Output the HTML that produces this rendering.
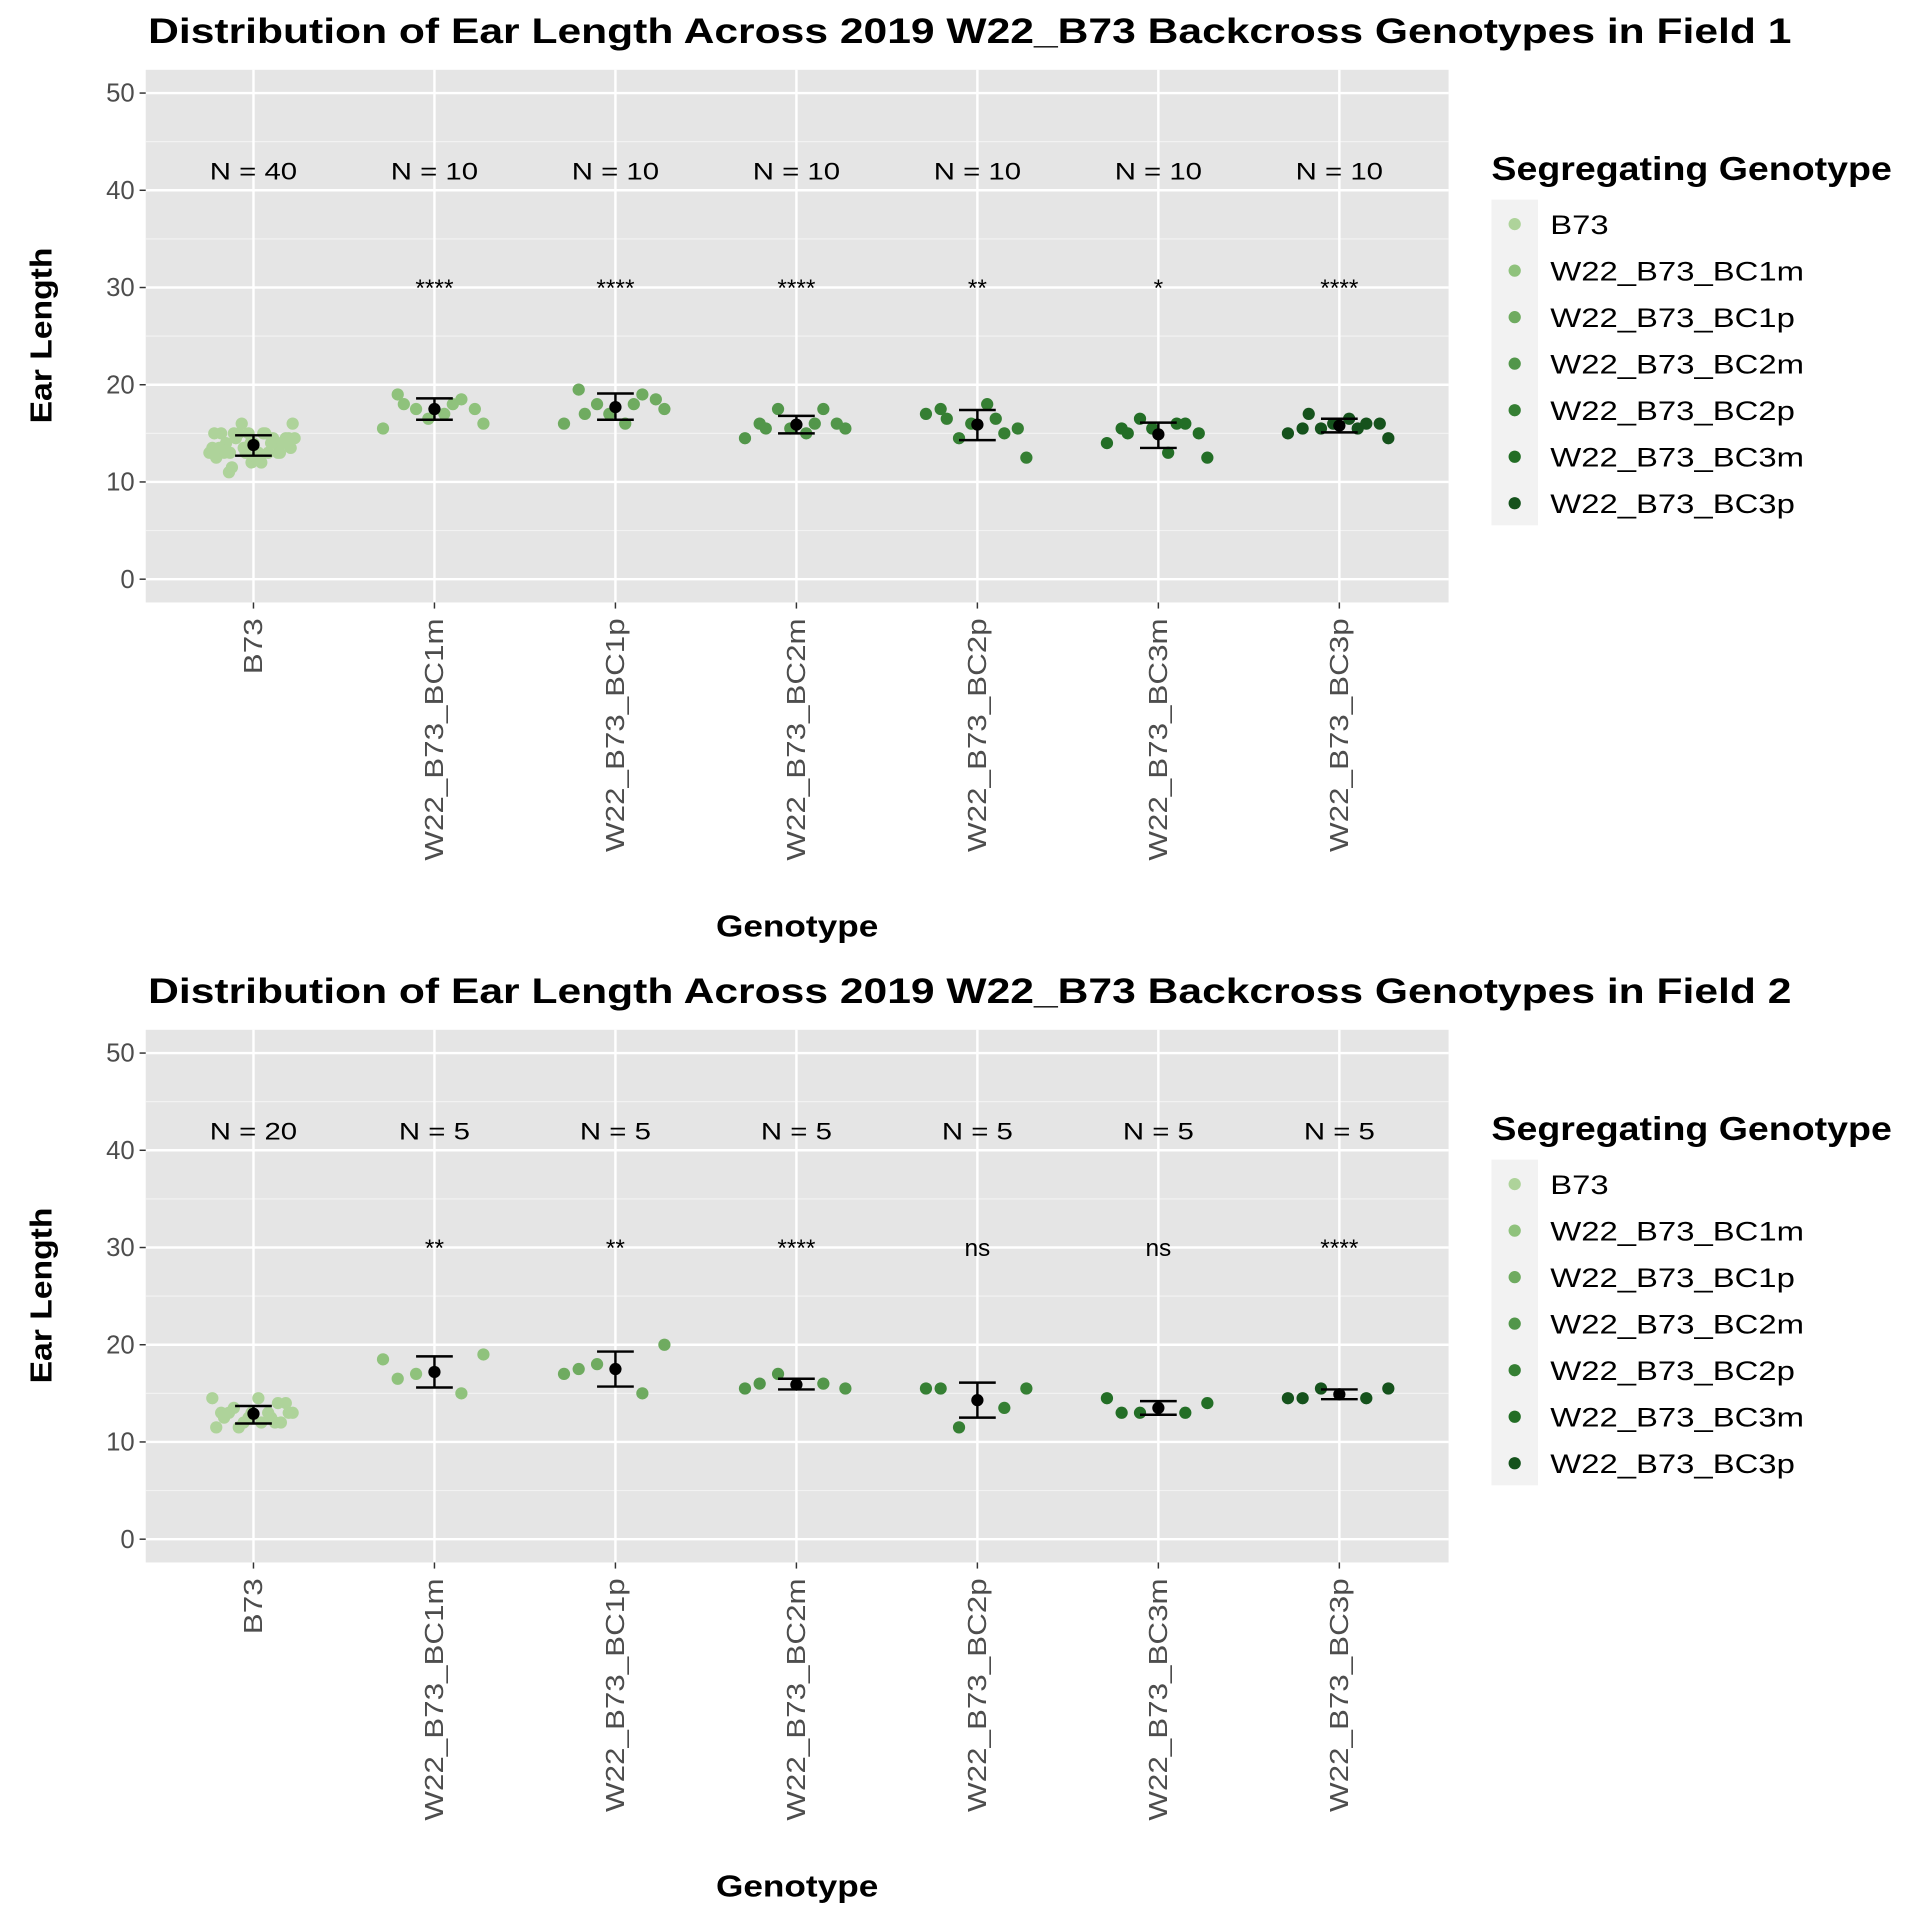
<!DOCTYPE html>
<html><head><meta charset="utf-8"><style>
html,body{margin:0;padding:0;background:#fff;width:1920px;height:1920px;overflow:hidden}
svg{display:block}
text{font-family:"Liberation Sans",Arial,sans-serif}
</style></head><body>
<svg id="chart" width="1920" height="1920" viewBox="0 0 1568 1568" xmlns="http://www.w3.org/2000/svg"></svg>
<script>
const categories = ["B73","W22_B73_BC1m","W22_B73_BC1p","W22_B73_BC2m","W22_B73_BC2p","W22_B73_BC3m","W22_B73_BC3p"];
const colors = ["#aed39a","#8fc27c","#6fab60","#52964a","#357f33","#236e26","#15521c"];
const yTicks = [0,10,20,30,40,50];
// Field 1
const f1Counts = ["N = 40","N = 10","N = 10","N = 10","N = 10","N = 10","N = 10"];
const f1Sig = ["","****","****","****","**","*","****"];
const f1Means = [13.8,17.5,17.7,15.9,15.9,14.9,15.8];
const f1Lower = [12.7,16.4,16.4,15.0,14.3,13.5,15.1];
const f1Upper = [14.8,18.6,19.1,16.8,17.4,16.1,16.5];
const f1B73 = [13,14,15,16,13.5,12,11,14.5,15,13,12.5,14,15,13,14.5,13.5,15,14,12,13,14,15,13.5,14.5,14,13,15,14.5,12.5,13,16,14,13.5,15,14,13,11.5,14.5,13,14];
const f1BC1m = [19,18.5,17.5,16,15.5,17,18,17.5,16.5,18];
const f1BC1p = [19.5,19,18,17.5,16,16,17,18.5,17,18];
const f1BC2m = [16,17.5,17.5,15.5,14.5,15,15.5,16,15.5,16];
const f1BC2p = [17.5,15,14.5,12.5,17,18,16.5,15.5,16,16.5];
const f1BC3m = [15.5,16,16.5,12.5,14,13,15,15,15.5,16];
const f1BC3p = [15.5,16,15.5,14.5,15,16.5,17,16,16,15.5];
// Field 2
const f2Counts = ["N = 20","N = 5","N = 5","N = 5","N = 5","N = 5","N = 5"];
const f2Sig = ["","**","**","****","ns","ns","****"];
const f2Means = [12.9,17.2,17.5,15.9,14.3,13.5,14.9];
const f2Lower = [11.9,15.6,15.7,15.4,12.5,12.8,14.4];
const f2Upper = [13.7,18.8,19.3,16.5,16.1,14.2,15.4];
const f2B73 = [12.5,12,11.5,13,14.5,12,13,14,12.5,13,11.5,12,13.5,14.5,13,12,13,12.5,13,14];
const f2BC1m = [16.5,15,17,19,18.5];
const f2BC1p = [17.5,15,18,20,17];
const f2BC2m = [16,16,17,15.5,15.5];
const f2BC2p = [15.5,13.5,11.5,15.5,15.5];
const f2BC3m = [13,13,13,14,14.5];
const f2BC3p = [14.5,14.5,15.5,15.5,14.5];
const f1Points=[f1B73,f1BC1m,f1BC1p,f1BC2m,f1BC2p,f1BC3m,f1BC3p];
const f2Points=[f2B73,f2BC1m,f2BC1p,f2BC2m,f2BC2p,f2BC3m,f2BC3p];
const jitter=[-30,22,-15,40,-42,8,-25,33,-5,15,-38,28,-20,5,36,-10,-33,18,-2,25,-28,10,38,-18,30,-8,-40,20,3,-24,-12,35,-35,12,-3,27,-22,42,-45,0];

const svg=document.getElementById('chart');
const NS='http://www.w3.org/2000/svg';
function el(tag,attrs,parent,txt){const e=document.createElementNS(NS,tag);for(const k in attrs)e.setAttribute(k,attrs[k]);if(txt!==undefined)e.textContent=txt;(parent||svg).appendChild(e);return e;}
function widen(t,f){try{const w=t.getComputedTextLength();if(w>0){t.setAttribute('textLength',(w*f).toFixed(1));t.setAttribute('lengthAdjust','spacingAndGlyphs');}}catch(e){}}
const X0=207, DX=147.8;
function xPos(i){return X0+i*DX;}

function panel(id,top,title,counts,sig,means,lo,hi,pts){
  const g=el('g',{});  
  const y0=top+416, k=7.94;
  const yPos=v=>y0-v*k;
  const t=el('text',{x:792,y:top-22,'font-size':29,'font-weight':'bold','text-anchor':'middle',fill:'#000'},g,title);
   
  const bg=el('rect',{x:119,y:top,width:1064,height:435,fill:'#e5e5e5'},g);
   
  for(let v=5;v<=50;v+=10) el('line',{x1:119,x2:1183,y1:yPos(v),y2:yPos(v),stroke:'#f2f2f2','stroke-width':1},g);
  yTicks.forEach(v=>{
    el('line',{x1:119,x2:1183,y1:yPos(v),y2:yPos(v),stroke:'#fff','stroke-width':2},g);
    el('line',{x1:114,x2:119,y1:yPos(v),y2:yPos(v),stroke:'#333','stroke-width':1.2},g);
    const tl=el('text',{x:110,y:yPos(v)+7,'font-size':21,fill:'#4d4d4d','text-anchor':'end'},g,String(v));
     
  });
  categories.forEach((c,i)=>{
    const x=xPos(i);
    el('line',{x1:x,x2:x,y1:top,y2:top+435,stroke:'#fff','stroke-width':2},g);
    el('line',{x1:x,x2:x,y1:top+435,y2:top+440,stroke:'#333','stroke-width':1.2},g);
    const xl=el('text',{x:0,y:0,'font-size':21,fill:'#4d4d4d','text-anchor':'end',transform:`translate(${x+7},${top+448}) rotate(-90)`},g,c);
     
    widen(xl,1.22);
    const n=el('text',{x:x,y:yPos(42)+7,'font-size':20,'text-anchor':'middle',fill:'#000'},g,counts[i]);
     
    widen(n,1.2);
    if(sig[i]){const s=el('text',{x:x,y:yPos(30)+7,'font-size':20,'text-anchor':'middle',fill:'#000'},g,sig[i]);
       }
    pts[i].forEach((v,j)=>{
      const jf=i===0?0.8:1;
      const p=el('circle',{cx:x+jitter[j%jitter.length]*jf,cy:yPos(v),r:5,fill:colors[i]},g);
       
    });
    const eb=el('path',{d:`M${x-15},${yPos(hi[i])}H${x+15}M${x},${yPos(hi[i])}V${yPos(lo[i])}M${x-15},${yPos(lo[i])}H${x+15}`,stroke:'#000','stroke-width':2,fill:'none'},g);
     
    const m=el('circle',{cx:x,cy:yPos(means[i]),r:5,fill:'#000'},g);
     
  });
  t.setAttribute('textLength','1342'); t.setAttribute('lengthAdjust','spacingAndGlyphs');
  const yt=el('text',{x:0,y:0,'font-size':25,'font-weight':'bold','text-anchor':'middle',transform:`translate(42,${top+217}) rotate(-90)`},g,'Ear Length');
   
  widen(yt,1.1);
  const xt=el('text',{x:651,y:top+708,'font-size':25,'font-weight':'bold','text-anchor':'middle'},g,'Genotype');
   
  widen(xt,1.15);
  const lt=el('text',{x:1218,y:top+90,'font-size':27,'font-weight':'bold'},g,'Segregating Genotype');
   
  lt.setAttribute('textLength','327'); lt.setAttribute('lengthAdjust','spacingAndGlyphs');
  el('rect',{x:1218,y:top+106,width:38,height:266,fill:'#f2f2f2'},g);
  categories.forEach((c,i)=>{
    const cy=top+126+i*38;
    const d=el('circle',{cx:1237,cy:cy,r:5,fill:colors[i]},g);
     
    const lb=el('text',{x:1266,y:cy+8,'font-size':22,fill:'#000'},g,c);
     
    widen(lb,1.22);
  });
}
panel('field1-panel',57,'Distribution of Ear Length Across 2019 W22_B73 Backcross Genotypes in Field 1',f1Counts,f1Sig,f1Means,f1Lower,f1Upper,f1Points);
panel('field2-panel',841,'Distribution of Ear Length Across 2019 W22_B73 Backcross Genotypes in Field 2',f2Counts,f2Sig,f2Means,f2Lower,f2Upper,f2Points);
</script>
</body></html>
